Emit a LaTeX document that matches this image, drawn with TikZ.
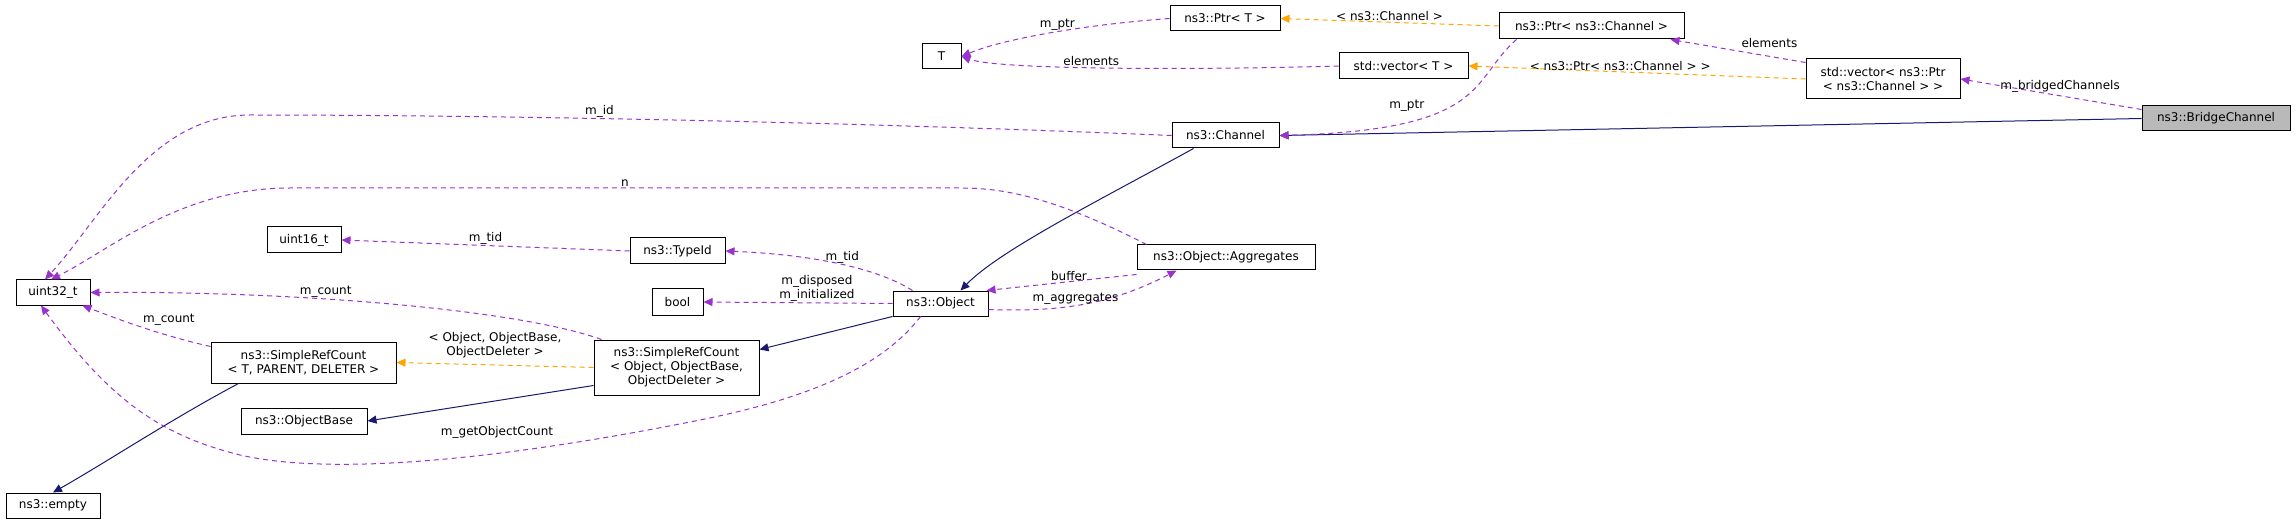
\documentclass[tikz,border=0pt]{standalone}
\usepackage{fontspec}
\setmainfont{DejaVu Sans}
\usetikzlibrary{arrows.meta}
\definecolor{purp}{HTML}{9A32CD}
\definecolor{orng}{HTML}{FFA500}
\definecolor{navy}{HTML}{191970}
\tikzset{
  box/.style={draw=black,line width=1pt,fill=white,inner sep=0pt,align=center,font=\fontsize{12}{14}\selectfont},
  mem/.style={draw=purp,line width=1pt,dash pattern=on 5pt off 4pt,-{Triangle[length=9pt,width=8pt]}},
  tpl/.style={draw=orng,line width=1pt,dash pattern=on 5pt off 4pt,-{Triangle[length=9pt,width=8pt]}},
  inh/.style={draw=navy,line width=1pt,-{Triangle[length=9pt,width=8pt]}},
  lbl/.style={font=\fontsize{12}{14}\selectfont,align=center,inner sep=1pt}
}
\newcommand{\nd}[6]{\node[box,minimum width={#4-#2},minimum height={#5-#3}] (#1) at ({(#2+#4)/2},{-(#3+#5)/2}) {#6};}
\begin{document}
\begin{tikzpicture}[x=1pt,y=1pt]
\useasboundingbox (0,0) rectangle (2296,-521);
\nd{T}{922}{44}{961}{69}{T}
\nd{uint32}{16}{280}{90}{305}{uint32\_t}
\nd{uint16}{267}{227}{341}{253}{uint16\_t}
\nd{typeid}{630}{238}{725}{264}{ns3::TypeId}
\nd{bool}{652}{289}{703}{315}{bool}
\nd{object}{893}{291}{988}{316}{ns3::Object}
\nd{aggr}{1137}{245}{1315}{270}{ns3::Object::Aggregates}
\nd{srct}{211}{342}{396}{383}{ns3::SimpleRefCount\\\textless{} T, PARENT, DELETER \textgreater}
\nd{srco}{594}{340}{759}{395}{ns3::SimpleRefCount\\\textless{} Object, ObjectBase,\\ObjectDeleter \textgreater}
\nd{objbase}{241}{408}{367}{434}{ns3::ObjectBase}
\nd{empty}{6}{493}{100}{518}{ns3::empty}
\nd{ptrt}{1170}{6}{1280}{31}{ns3::Ptr\textless{} T \textgreater}
\nd{ptrc}{1499}{13}{1684}{39}{ns3::Ptr\textless{} ns3::Channel \textgreater}
\nd{vect}{1339}{53}{1468}{79}{std::vector\textless{} T \textgreater}
\nd{vecp}{1806}{59}{1960}{99}{std::vector\textless{} ns3::Ptr\\\textless{} ns3::Channel \textgreater{} \textgreater}
\node[box,fill=gray!55,minimum width=148,minimum height=25] (bridge) at (2216,-118.5) {ns3::BridgeChannel};
\nd{channel}{1172}{123}{1279}{148}{ns3::Channel}

% inheritance
\draw[inh] (bridge.west) -- (channel.east);
\draw[inh] ([xshift=22pt]channel.south west) .. controls (1100,-200) and (1000,-250) .. ([xshift=-28pt]object.north east);
\draw[inh] (object.south west) -- ([yshift=-10pt]srco.north east);
\draw[inh] ([yshift=10pt]srco.south west) -- (objbase.east);
\draw[inh] ([xshift=28pt]srct.south west) .. controls (170,-420) and (110,-460) .. (empty.north);
% templates
\draw[tpl] (srco.west) -- node[lbl,above=6pt] {\textless{} Object, ObjectBase,\\ObjectDeleter \textgreater} (srct.east);
\draw[tpl] (vecp.west) -- node[lbl,above,pos=0.55] {\textless{} ns3::Ptr\textless{} ns3::Channel \textgreater{} \textgreater} (vect.east);
\draw[tpl] (ptrc.west) -- node[lbl,above] {\textless{} ns3::Channel \textgreater} (ptrt.east);
% members
\draw[mem] (ptrt.west) .. controls (1080,-25) and (1000,-40) .. node[lbl,above,pos=0.45] {m\_ptr} (T.east);
\draw[mem] (vect.west) .. controls (1200,-70) and (1000,-70) .. node[lbl,above,pos=0.55] {elements} (T.east);
\draw[mem] ([yshift=-4pt]vecp.north west) -- node[lbl,above right=2pt] {elements} ([xshift=-14pt]ptrc.south east);
\draw[mem] ([xshift=18pt]ptrc.south west) .. controls (1470,-80) and (1490,-130) .. node[lbl,left=25pt,pos=0.55] {m\_ptr} (channel.east);
\draw[mem] ([yshift=-4pt]bridge.north west) -- node[lbl,above=2pt,pos=0.45] {m\_bridgedChannels} (vecp.east);
\draw[mem] (channel.west) .. controls (800,-120) and (450,-115) .. node[lbl,above,pos=0.55] {m\_id} (250,-115) .. controls (150,-115) and (100,-220) .. ([xshift=-8pt]uint32.north);
\draw[mem] ([xshift=10pt]aggr.north west) .. controls (1050,-195) and (1000,-188) .. (960,-188) -- node[lbl,above] {n} (290,-188) .. controls (180,-188) and (110,-250) .. ([xshift=-2pt]uint32.north);
\draw[mem] ([xshift=20pt]object.north west) .. controls (880,-270) and (820,-255) .. node[lbl,above,pos=0.5] {m\_tid} (typeid.east);
\draw[mem] (typeid.west) -- node[lbl,above] {m\_tid} (uint16.east);
\draw[mem] (object.west) -- node[lbl,above,pos=0.4] {m\_disposed\\m\_initialized} (bool.east);
\draw[mem] ([yshift=-4pt]aggr.south west) -- node[lbl,above,pos=0.45] {buffer} ([xshift=-2pt]object.north east);
\draw[mem] ([yshift=-6pt]object.east) .. controls (1060,-312) and (1110,-305) .. node[lbl,above,pos=0.45] {m\_aggregates} ([xshift=40pt]aggr.south west);
\draw[mem] ([xshift=8pt]srco.north west) .. controls (520,-310) and (300,-291) .. node[lbl,above,pos=0.62] {m\_count} (uint32.east);
\draw[mem] ([yshift=-5pt]srct.north west) .. controls (160,-335) and (120,-320) .. node[lbl,above right,pos=0.5] {m\_count} ([xshift=-8pt]uint32.south east);
\draw[mem] ([xshift=28pt]object.south west) .. controls (880,-370) and (800,-400) .. (700,-420) .. controls (550,-450) and (350,-480) .. (240,-455) .. controls (160,-435) and (110,-400) .. ([xshift=-12pt]uint32.south);
\node[lbl] (goc) at (497,-432) {m\_getObjectCount};
\end{tikzpicture}
\end{document}
